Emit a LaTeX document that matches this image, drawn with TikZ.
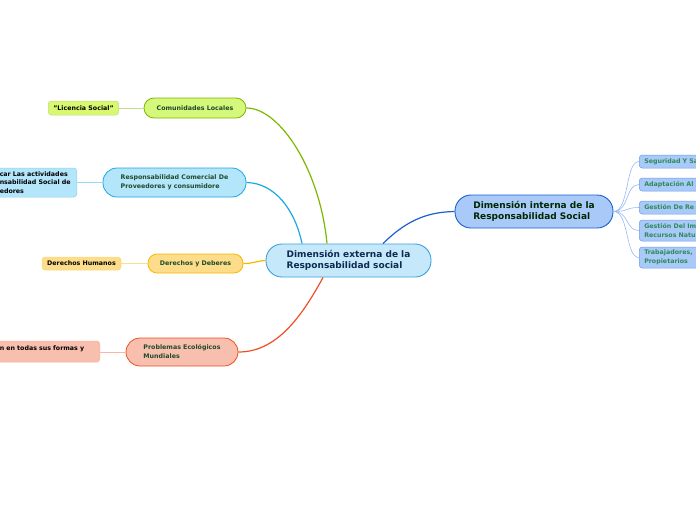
\documentclass[tikz,border=0pt]{standalone}
\usepackage{fontspec}
\setmainfont{DejaVu Sans}
\usepackage{xcolor}
\usetikzlibrary{positioning, calc}

\definecolor{extfill}{HTML}{C6E8FB}
\definecolor{extdraw}{HTML}{3BA0DC}
\definecolor{intfill}{HTML}{A9C9F8}
\definecolor{intdraw}{HTML}{1A5FD0}
\definecolor{limefill}{HTML}{D4F77C}
\definecolor{limedraw}{HTML}{7CB800}
\definecolor{skyfill}{HTML}{B3E5FB}
\definecolor{skydraw}{HTML}{1BA8E0}
\definecolor{goldfill}{HTML}{FDDC8A}
\definecolor{golddraw}{HTML}{F5B800}
\definecolor{redfill}{HTML}{F9BFAE}
\definecolor{reddraw}{HTML}{F04E23}
\definecolor{navytext}{HTML}{0F2A4F}
\definecolor{darktext}{HTML}{1F4A2A}
\definecolor{greentext}{HTML}{2E8B57}
\definecolor{rightdraw}{HTML}{6A9AF0}

\begin{document}
\begin{tikzpicture}[
    x=1pt, y=-1pt,
    topic/.style={rectangle, draw, line width=0.9pt, rounded corners=16pt, align=left, font=\bfseries\fontsize{9}{11}\selectfont},
    main/.style={rectangle, draw, line width=0.8pt, align=left, inner sep=0pt, text=darktext, font=\bfseries\fontsize{6.3}{9}\selectfont},
    leaf/.style={rectangle, draw, line width=0.5pt, rounded corners=3pt, align=left, inner xsep=5pt, inner ysep=0pt, font=\bfseries\fontsize{6.3}{8.5}\selectfont},
    branch/.style={line width=1.2pt},
    twig/.style={line width=0.6pt}
]
    \useasboundingbox (0,0) rectangle (696,520);
    \clip (0,0) rectangle (696,520);

    % Centre topics
    \node[topic, fill=extfill, draw=extdraw, text=navytext, minimum width=165pt, minimum height=33pt] (ext) at (348.5,260.5) {Dimensión externa de la\\Responsabilidad social};
    \node[topic, fill=intfill, draw=intdraw, text=black!85!green, minimum width=158pt, minimum height=33pt] (int) at (534,211.5) {Dimensión interna de la\\Responsabilidad Social};

    % Left branches
    \node[main, fill=limefill, draw=limedraw, rounded corners=10pt, minimum width=102pt, minimum height=20pt] (comunidades) at (195,108) {Comunidades Locales};
    \node[main, fill=skyfill, draw=skydraw, rounded corners=14pt, minimum width=143pt, minimum height=29pt] (comercial) at (174.5,182.5) {Responsabilidad Comercial De\\Proveedores y consumidore};
    \node[main, fill=goldfill, draw=golddraw, rounded corners=9pt, minimum width=95pt, minimum height=19pt] (derechos) at (195.5,263.5) {Derechos y Deberes};
    \node[main, fill=redfill, draw=reddraw, rounded corners=14pt, minimum width=112pt, minimum height=28pt] (problemas) at (182,352) {Problemas Ecológicos\\Mundiales};

    % Left leaves
    \node[leaf, fill=limefill!90!yellow, draw=limedraw!50, minimum width=69pt, minimum height=14pt] (licencia) at (83.5,108) {"Licencia Social"};
    \node[leaf, fill=skyfill, draw=skydraw!50, inner xsep=3pt, text width=74pt, minimum height=29pt, anchor=east] (actividades) at (77,182.5) {car Las actividades\\nsabilidad Social de\\edores};
    \node[leaf, fill=goldfill, draw=golddraw!50, minimum width=79pt, minimum height=13pt] (humanos) at (81.5,263.5) {Derechos Humanos};
    \node[leaf, fill=redfill, draw=reddraw!45, inner xsep=3pt, text width=97pt, text height=9.5pt, text depth=11.5pt, anchor=east] (contaminacion) at (100,351.5) {n en todas sus formas y};

    % Right leaves
    \begin{scope}[every node/.style={leaf, fill=intfill, draw=rightdraw, text=greentext, text width=80pt, anchor=west}]
        \node[minimum height=13pt] (seguridad) at (639,161.5) {Seguridad Y Sa};
        \node[minimum height=13pt] (adaptacion) at (639,184.5) {Adaptación Al};
        \node[minimum height=13pt] (gestionrh) at (639,207.5) {Gestión De Re};
        \node[minimum height=21pt] (gestionim) at (639,230.5) {Gestión Del Im\\Recursos Natu};
        \node[minimum height=21pt] (trabajadores) at (639,257.5) {Trabajadores,\\Propietarios};
    \end{scope}

    % Branches
    \draw[branch, limedraw] ($(ext.north)+(-21.5,0)$) .. controls (320,170) and (280,108) .. (comunidades.east);
    \draw[branch, skydraw] ($(ext.north)+(-46.5,0)$) .. controls (295,210) and (275,183) .. (comercial.east);
    \draw[branch, golddraw] (derechos.east) .. controls (254,263.5) and (256,261) .. (ext.west);
    \draw[branch, reddraw] ($(ext.south)+(-25.5,0)$) .. controls (300,320) and (275,352) .. (problemas.east);
    \draw[branch, intdraw] ($(ext.north)+(34.5,0)$) .. controls (405,222) and (425,212) .. (int.west);

    % Twigs
    \draw[twig, limedraw!45] (comunidades.west) -- (licencia.east);
    \draw[twig, skydraw!45] (comercial.west) -- (actividades.east);
    \draw[twig, golddraw!45] (derechos.west) -- (humanos.east);
    \draw[twig, reddraw!40] (problemas.west) -- (contaminacion.east |- problemas.west);
    \foreach \leafname in {seguridad, adaptacion, gestionrh, gestionim, trabajadores}
        \draw[twig, rightdraw!70] (int.east) .. controls +(16,0) and +(-14,0) .. (\leafname.west);
\end{tikzpicture}
\end{document}
